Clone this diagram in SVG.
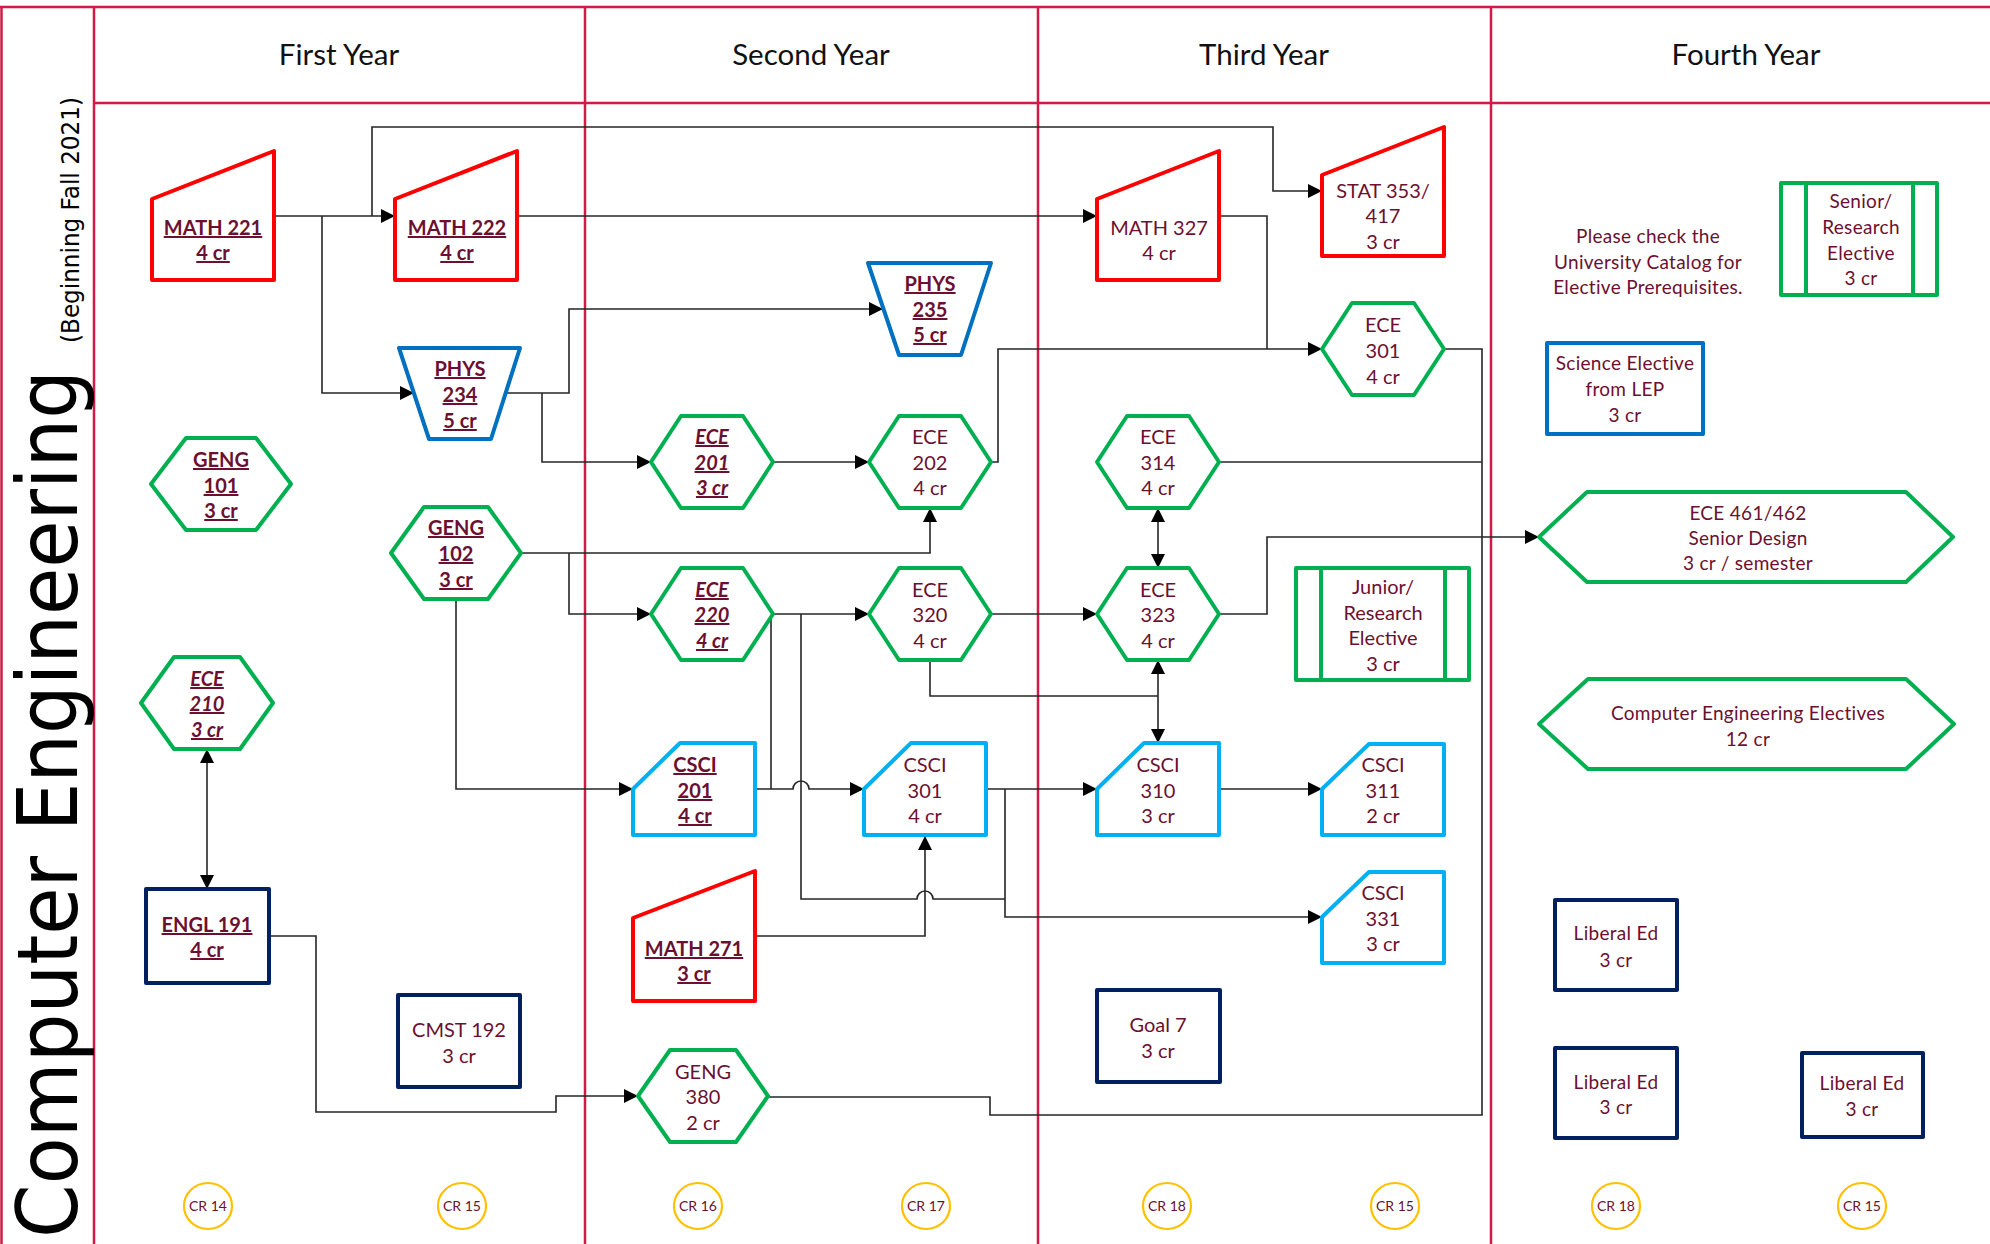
<svg xmlns="http://www.w3.org/2000/svg" width="1990" height="1244" viewBox="0 0 1990 1244">
<defs>
<style>
.frame{stroke:#CF1B45;stroke-width:2.5;fill:none}
.c{stroke:#262626;stroke-width:1.6;fill:none}
.arr{marker-end:url(#ah)}
.dbl{marker-start:url(#ah);marker-end:url(#ah)}
.n{fill:#fff;stroke-width:4;stroke-linejoin:round}
.red{stroke:#FF0000}
.grn{stroke:#00B050}
.blu{stroke:#0070C0}
.lb{stroke:#00B0F0}
.nav{stroke:#002060}
.cr{fill:#fff;stroke:#FFC000;stroke-width:2.2}
text{font-family:Lato,"Liberation Sans",sans-serif;fill:#6B1030;text-anchor:middle;font-size:20px}
.b{font-weight:bold;text-decoration:underline}
.bi{font-weight:bold;font-style:italic;text-decoration:underline}
.hd{font-size:29.5px;fill:#111}
.crt{font-size:14px}
.f4{font-size:19px;letter-spacing:0.3px}
</style>
<marker id="ah" viewBox="0 0 10 10" refX="10" refY="5" markerWidth="14" markerHeight="14" markerUnits="userSpaceOnUse" orient="auto-start-reverse">
<path d="M0,0 L10,5 L0,10 z" fill="#000"/>
</marker>
</defs>
<rect width="1990" height="1244" fill="#fff"/>
<g id="frame">
<line class="frame" x1="0" y1="7" x2="1990" y2="7"/>
<line class="frame" x1="94" y1="103" x2="1990" y2="103"/>
<line class="frame" x1="1.5" y1="7" x2="1.5" y2="1244"/>
<line class="frame" x1="94" y1="7" x2="94" y2="1244"/>
<line class="frame" x1="585" y1="7" x2="585" y2="1244"/>
<line class="frame" x1="1038" y1="7" x2="1038" y2="1244"/>
<line class="frame" x1="1491" y1="7" x2="1491" y2="1244"/>
<text class="hd" x="339" y="65">First Year</text>
<text class="hd" x="811" y="65">Second Year</text>
<text class="hd" x="1264" y="65">Third Year</text>
<text class="hd" x="1746" y="65">Fourth Year</text>
<text transform="translate(77,1238) rotate(-90)" style="font-family:'DejaVu Sans',sans-serif;font-size:84px;fill:#000;text-anchor:start" textLength="868" lengthAdjust="spacingAndGlyphs">Computer Engineering</text>
<text transform="translate(79,343) rotate(-90)" style="font-family:'DejaVu Sans',sans-serif;font-size:24px;fill:#000;text-anchor:start" textLength="246" lengthAdjust="spacingAndGlyphs">(Beginning Fall 2021)</text>
</g>
<g id="connectors">
<path class="c arr" d="M274,216 H395"/>
<path class="c arr" d="M322,216 V393 H414"/>
<path class="c arr" d="M372,216 V127 H1273 V191 H1322"/>
<path class="c arr" d="M517,216 H1097"/>
<path class="c arr" d="M505,393 H569 V309 H883"/>
<path class="c arr" d="M542,393 V462 H651"/>
<path class="c arr" d="M773,462 H869"/>
<path class="c arr" d="M991,462 H998 V349 H1322"/>
<path class="c" d="M1219,216 H1267 V349"/>
<path class="c arr" d="M521,553 H930 V508"/>
<path class="c arr" d="M569,553 V614 H651"/>
<path class="c arr" d="M456,599 V789 H633"/>
<path class="c arr" d="M773,614 H869"/>
<path class="c" d="M771,614 V789"/>
<path class="c arr" d="M755,789 H793 A8,8 0 0 1 809,789 H864"/>
<path class="c" d="M801,614 V899 H917 A8,8 0 0 1 933,899 H1005"/>
<path class="c arr" d="M755,936 H925 V836"/>
<path class="c arr" d="M986,789 H1097"/>
<path class="c arr" d="M1005,789 V917 H1322"/>
<path class="c arr" d="M1219,789 H1322"/>
<path class="c arr" d="M991,614 H1097"/>
<path class="c" d="M930,660 V696 H1158"/>
<path class="c dbl" d="M1158,660 V743"/>
<path class="c dbl" d="M1158,508 V568"/>
<path class="c arr" d="M1219,614 H1267 V537 H1539"/>
<path class="c" d="M1444,349 H1482 V1115 H990 V1097 H768"/>
<path class="c" d="M1219,462 H1482"/>
<path class="c arr" d="M269,936 H316 V1112 H556 V1096 H638"/>
<path class="c dbl" d="M207,749 V889"/>
</g>
<g id="math221"><polygon class="n red" points="152,199 274,151 274,280 152,280"/><text class="b" x="213" y="235">MATH 221</text><text class="b" x="213" y="260">4 cr</text></g>
<g id="math222"><polygon class="n red" points="395,199 517,151 517,280 395,280"/><text class="b" x="457" y="235">MATH 222</text><text class="b" x="457" y="260">4 cr</text></g>
<g id="phys234"><polygon class="n blu" points="399,348 520,348 491,439 429,439"/><text class="b" x="460" y="376">PHYS</text><text class="b" x="460" y="402">234</text><text class="b" x="460" y="428">5 cr</text></g>
<g id="geng101"><polygon class="n grn" points="151,484 186,438 256,438 291,484 256,530 186,530"/><text class="b" x="221" y="467">GENG</text><text class="b" x="221" y="493">101</text><text class="b" x="221" y="518">3 cr</text></g>
<g id="geng102"><polygon class="n grn" points="391,553 424,507 488,507 521,553 488,599 424,599"/><text class="b" x="456" y="535">GENG</text><text class="b" x="456" y="561">102</text><text class="b" x="456" y="587">3 cr</text></g>
<g id="ece210"><polygon class="n grn" points="141,703 174,657 240,657 273,703 240,749 174,749"/><text class="bi" x="207" y="686">ECE</text><text class="bi" x="207" y="711">210</text><text class="bi" x="207" y="737">3 cr</text></g>
<g id="engl191"><rect class="n nav" x="146" y="889" width="123" height="94"/><text class="b" x="207" y="932">ENGL 191</text><text class="b" x="207" y="957">4 cr</text></g>
<g id="cmst192"><rect class="n nav" x="398" y="995" width="122" height="92"/><text x="459" y="1037">CMST 192</text><text x="459" y="1063">3 cr</text></g>
<g id="phys235"><polygon class="n blu" points="868,263 991,263 961,355 899,355"/><text class="b" x="930" y="291">PHYS</text><text class="b" x="930" y="317">235</text><text class="b" x="930" y="342">5 cr</text></g>
<g id="ece201"><polygon class="n grn" points="651,462 681,416 743,416 773,462 743,508 681,508"/><text class="bi" x="712" y="444">ECE</text><text class="bi" x="712" y="470">201</text><text class="bi" x="712" y="495">3 cr</text></g>
<g id="ece202"><polygon class="n grn" points="869,462 899,416 961,416 991,462 961,508 899,508"/><text x="930" y="444">ECE</text><text x="930" y="470">202</text><text x="930" y="495">4 cr</text></g>
<g id="ece220"><polygon class="n grn" points="651,614 681,568 743,568 773,614 743,660 681,660"/><text class="bi" x="712" y="597">ECE</text><text class="bi" x="712" y="622">220</text><text class="bi" x="712" y="648">4 cr</text></g>
<g id="ece320"><polygon class="n grn" points="869,614 899,568 961,568 991,614 961,660 899,660"/><text x="930" y="597">ECE</text><text x="930" y="622">320</text><text x="930" y="648">4 cr</text></g>
<g id="csci201"><polygon class="n lb" points="680,743 755,743 755,835 633,835 633,789"/><text class="b" x="695" y="772">CSCI</text><text class="b" x="695" y="798">201</text><text class="b" x="695" y="823">4 cr</text></g>
<g id="csci301"><polygon class="n lb" points="911,743 986,743 986,835 864,835 864,789"/><text x="925" y="772">CSCI</text><text x="925" y="798">301</text><text x="925" y="823">4 cr</text></g>
<g id="math271"><polygon class="n red" points="633,918 755,871 755,1001 633,1001"/><text class="b" x="694" y="956">MATH 271</text><text class="b" x="694" y="981">3 cr</text></g>
<g id="geng380"><polygon class="n grn" points="638,1096 670,1050 736,1050 768,1096 736,1142 670,1142"/><text x="703" y="1079">GENG</text><text x="703" y="1104">380</text><text x="703" y="1130">2 cr</text></g>
<g id="math327"><polygon class="n red" points="1097,199 1219,151 1219,280 1097,280"/><text x="1159" y="235">MATH 327</text><text x="1159" y="260">4 cr</text></g>
<g id="stat353"><polygon class="n red" points="1322,175 1444,127 1444,256 1322,256"/><text x="1383" y="198">STAT 353/</text><text x="1383" y="223">417</text><text x="1383" y="249">3 cr</text></g>
<g id="ece301"><polygon class="n grn" points="1322,349 1352,303 1414,303 1444,349 1414,395 1352,395"/><text x="1383" y="332">ECE</text><text x="1383" y="358">301</text><text x="1383" y="384">4 cr</text></g>
<g id="ece314"><polygon class="n grn" points="1097,462 1127,416 1189,416 1219,462 1189,508 1127,508"/><text x="1158" y="444">ECE</text><text x="1158" y="470">314</text><text x="1158" y="495">4 cr</text></g>
<g id="ece323"><polygon class="n grn" points="1097,614 1127,568 1189,568 1219,614 1189,660 1127,660"/><text x="1158" y="597">ECE</text><text x="1158" y="622">323</text><text x="1158" y="648">4 cr</text></g>
<g id="junior"><rect class="n grn" x="1296" y="568" width="173" height="112"/><line class="n grn" x1="1321" y1="568" x2="1321" y2="680"/><line class="n grn" x1="1445" y1="568" x2="1445" y2="680"/><text x="1383" y="594">Junior/</text><text x="1383" y="620">Research</text><text x="1383" y="645">Elective</text><text x="1383" y="671">3 cr</text></g>
<g id="csci310"><polygon class="n lb" points="1144,743 1219,743 1219,835 1097,835 1097,789"/><text x="1158" y="772">CSCI</text><text x="1158" y="798">310</text><text x="1158" y="823">3 cr</text></g>
<g id="csci311"><polygon class="n lb" points="1369,744 1444,744 1444,835 1322,835 1322,789"/><text x="1383" y="772">CSCI</text><text x="1383" y="798">311</text><text x="1383" y="823">2 cr</text></g>
<g id="csci331"><polygon class="n lb" points="1369,872 1444,872 1444,963 1322,963 1322,917"/><text x="1383" y="900">CSCI</text><text x="1383" y="926">331</text><text x="1383" y="951">3 cr</text></g>
<g id="goal7"><rect class="n nav" x="1097" y="990" width="123" height="92"/><text x="1158" y="1032">Goal 7</text><text x="1158" y="1058">3 cr</text></g>
<g id="note"><text class="f4" x="1648" y="243">Please check the</text><text class="f4" x="1648" y="269">University Catalog for</text><text class="f4" x="1648" y="294">Elective Prerequisites.</text></g>
<g id="senior"><rect class="n grn" x="1781" y="183" width="156" height="112"/><line class="n grn" x1="1806" y1="183" x2="1806" y2="295"/><line class="n grn" x1="1913" y1="183" x2="1913" y2="295"/><text class="f4" x="1861" y="208">Senior/</text><text class="f4" x="1861" y="234">Research</text><text class="f4" x="1861" y="260">Elective</text><text class="f4" x="1861" y="285">3 cr</text></g>
<g id="science"><rect class="n blu" x="1547" y="343" width="156" height="91"/><text class="f4" x="1625" y="370">Science Elective</text><text class="f4" x="1625" y="396">from LEP</text><text class="f4" x="1625" y="422">3 cr</text></g>
<g id="ece461"><polygon class="n grn" points="1539,537 1587,492 1906,492 1953,537 1906,582 1587,582"/><text class="f4" x="1748" y="520">ECE 461/462</text><text class="f4" x="1748" y="545">Senior Design</text><text class="f4" x="1748" y="570">3 cr / semester</text></g>
<g id="cee"><polygon class="n grn" points="1539,724 1588,679 1906,679 1954,724 1906,769 1588,769"/><text class="f4" x="1748" y="720">Computer Engineering Electives</text><text class="f4" x="1748" y="746">12 cr</text></g>
<g id="libed1"><rect class="n nav" x="1555" y="900" width="122" height="90"/><text class="f4" x="1616" y="940">Liberal Ed</text><text class="f4" x="1616" y="967">3 cr</text></g>
<g id="libed2"><rect class="n nav" x="1555" y="1048" width="122" height="90"/><text class="f4" x="1616" y="1089">Liberal Ed</text><text class="f4" x="1616" y="1114">3 cr</text></g>
<g id="libed3"><rect class="n nav" x="1802" y="1053" width="121" height="84"/><text class="f4" x="1862" y="1090">Liberal Ed</text><text class="f4" x="1862" y="1116">3 cr</text></g>
<g id="cr14"><ellipse class="cr" cx="208" cy="1206" rx="24" ry="23"/><text class="crt" x="208" y="1211">CR 14</text></g>
<g id="cr15a"><ellipse class="cr" cx="462" cy="1206" rx="24" ry="23"/><text class="crt" x="462" y="1211">CR 15</text></g>
<g id="cr16"><ellipse class="cr" cx="698" cy="1206" rx="24" ry="23"/><text class="crt" x="698" y="1211">CR 16</text></g>
<g id="cr17"><ellipse class="cr" cx="926" cy="1206" rx="24" ry="23"/><text class="crt" x="926" y="1211">CR 17</text></g>
<g id="cr18a"><ellipse class="cr" cx="1167" cy="1206" rx="24" ry="23"/><text class="crt" x="1167" y="1211">CR 18</text></g>
<g id="cr15b"><ellipse class="cr" cx="1395" cy="1206" rx="24" ry="23"/><text class="crt" x="1395" y="1211">CR 15</text></g>
<g id="cr18b"><ellipse class="cr" cx="1616" cy="1206" rx="24" ry="23"/><text class="crt" x="1616" y="1211">CR 18</text></g>
<g id="cr15c"><ellipse class="cr" cx="1862" cy="1206" rx="24" ry="23"/><text class="crt" x="1862" y="1211">CR 15</text></g>
</svg>
